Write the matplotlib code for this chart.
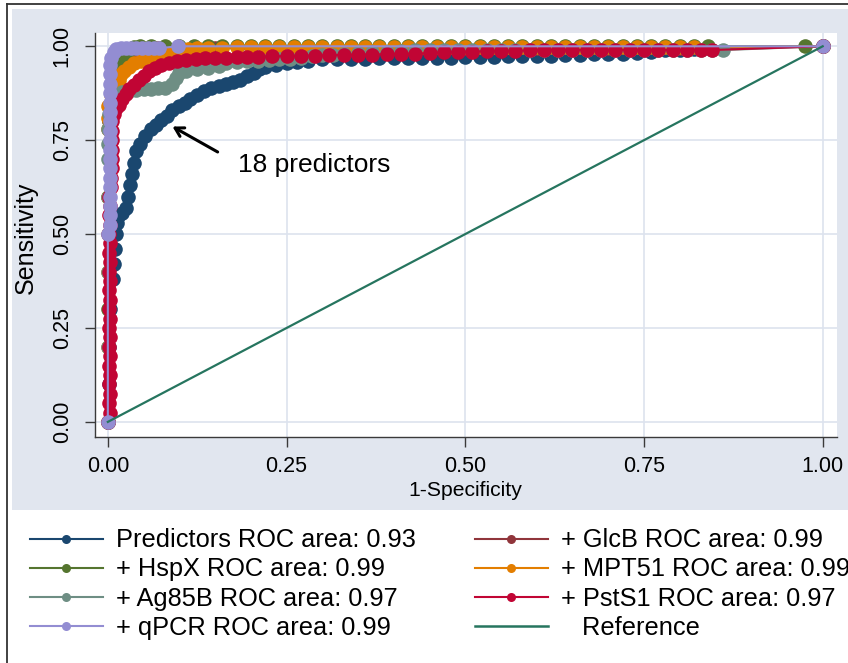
import matplotlib.pyplot as plt
from matplotlib.lines import Line2D
from matplotlib.patches import Rectangle

plt.rcParams['font.family'] = ['Liberation Sans', 'DejaVu Sans']

# pontos (1-especificidade, sensibilidade)
predictors = [(0, 0), (0.001, 0.10), (0.002, 0.20), (0.003, 0.30), (0.007, 0.38), (0.008, 0.42),
              (0.010, 0.46), (0.011, 0.50), (0.013, 0.53), (0.016, 0.55), (0.020, 0.555), (0.025, 0.57),
              (0.028, 0.60), (0.031, 0.63), (0.034, 0.66), (0.036, 0.69), (0.039, 0.72), (0.045, 0.74),
              (0.052, 0.76), (0.060, 0.78), (0.068, 0.79), (0.075, 0.805), (0.083, 0.815), (0.090, 0.83),
              (0.100, 0.84), (0.108, 0.85), (0.115, 0.86), (0.125, 0.87), (0.135, 0.88), (0.145, 0.89),
              (0.155, 0.895), (0.165, 0.90), (0.175, 0.905), (0.185, 0.91), (0.195, 0.92), (0.205, 0.93),
              (0.212, 0.94), (0.220, 0.945), (0.235, 0.95), (0.250, 0.955), (0.265, 0.958), (0.280, 0.96),
              (0.300, 0.965), (0.320, 0.965), (0.340, 0.966), (0.360, 0.966), (0.380, 0.968), (0.400, 0.968),
              (0.420, 0.968), (0.440, 0.97), (0.460, 0.97), (0.480, 0.97), (0.500, 0.972), (0.520, 0.972),
              (0.540, 0.972), (0.560, 0.975), (0.580, 0.975), (0.600, 0.975), (0.620, 0.975), (0.640, 0.977),
              (0.660, 0.978), (0.680, 0.98), (0.700, 0.98), (0.720, 0.98), (0.740, 0.982), (0.760, 0.985),
              (0.780, 0.99), (0.800, 0.99), (0.820, 0.992), (0.840, 0.995), (1.0, 1.0)]

glcb = [(0, 0), (0, 0.5), (0.002, 0.8), (0.008, 0.9), (0.015, 0.94), (0.025, 0.965), (0.035, 0.98),
        (0.05, 0.99), (0.07, 0.995), (0.10, 0.995), (0.15, 0.995), (0.20, 0.995), (0.30, 0.995),
        (0.40, 0.995), (0.50, 0.995), (0.60, 0.995), (0.70, 0.995), (0.80, 0.995), (1.0, 1.0)]

hspx = [(0, 0), (0, 0.3), (0, 0.6), (0.002, 0.8), (0.006, 0.88), (0.010, 0.92), (0.015, 0.945),
        (0.020, 0.96), (0.025, 0.975), (0.030, 0.99), (0.036, 0.997), (0.045, 1.0), (0.06, 1.0),
        (0.08, 1.0), (0.10, 1.0), (0.12, 1.0), (0.14, 1.0), (0.16, 1.0), (0.18, 1.0), (0.20, 1.0),
        (0.22, 1.0), (0.24, 1.0), (0.26, 1.0), (0.28, 1.0), (0.30, 1.0), (0.32, 1.0), (0.34, 1.0),
        (0.36, 1.0), (0.38, 1.0), (0.40, 1.0), (0.42, 1.0), (0.44, 1.0), (0.46, 1.0), (0.48, 1.0),
        (0.50, 1.0), (0.52, 1.0), (0.54, 1.0), (0.56, 1.0), (0.58, 1.0), (0.60, 1.0), (0.62, 1.0),
        (0.64, 1.0), (0.66, 1.0), (0.68, 1.0), (0.70, 1.0), (0.72, 1.0), (0.74, 1.0), (0.76, 1.0),
        (0.78, 1.0), (0.80, 1.0), (0.82, 1.0), (0.84, 1.0), (0.975, 1.0), (1.0, 1.0)]

mpt51 = [(0, 0), (0, 0.2), (0, 0.4), (0, 0.6), (0, 0.78), (0, 0.81), (0, 0.84), (0.004, 0.87),
         (0.010, 0.895), (0.015, 0.91), (0.019, 0.925), (0.023, 0.935), (0.030, 0.945), (0.037, 0.955),
         (0.047, 0.96), (0.058, 0.963), (0.068, 0.968), (0.078, 0.975), (0.088, 0.982), (0.100, 0.988),
         (0.112, 0.993), (0.125, 0.996), (0.14, 0.996), (0.16, 0.996), (0.18, 0.997), (0.20, 0.997),
         (0.22, 0.997), (0.24, 0.997), (0.26, 0.997), (0.28, 0.997), (0.30, 0.997), (0.32, 0.997),
         (0.34, 0.997), (0.36, 0.997), (0.38, 0.997), (0.40, 0.997), (0.42, 0.997), (0.44, 0.997),
         (0.46, 0.997), (0.48, 0.997), (0.50, 0.997), (0.52, 0.997), (0.54, 0.997), (0.56, 0.997),
         (0.58, 0.997), (0.60, 0.997), (0.62, 0.997), (0.64, 0.997), (0.66, 0.997), (0.68, 0.997),
         (0.70, 0.997), (0.72, 0.997), (0.74, 0.997), (0.76, 0.997), (0.78, 0.997), (0.80, 0.997),
         (0.82, 0.997), (1.0, 1.0)]

ag85b = [(0, 0), (0, 0.2), (0, 0.4), (0, 0.6), (0, 0.7), (0, 0.74), (0, 0.78), (0.002, 0.82),
         (0.006, 0.85), (0.012, 0.87), (0.020, 0.878), (0.030, 0.882), (0.040, 0.884), (0.050, 0.886),
         (0.060, 0.887), (0.070, 0.888), (0.080, 0.89), (0.090, 0.90), (0.095, 0.915), (0.100, 0.928),
         (0.110, 0.935), (0.125, 0.94), (0.140, 0.942), (0.155, 0.948), (0.165, 0.955), (0.180, 0.958),
         (0.195, 0.96), (0.210, 0.962), (0.225, 0.963), (0.240, 0.965), (0.255, 0.967), (0.270, 0.97),
         (0.285, 0.973), (0.300, 0.976), (0.315, 0.978), (0.330, 0.98), (0.350, 0.982), (0.370, 0.984),
         (0.390, 0.986), (0.410, 0.988), (0.43, 0.99), (0.45, 0.99), (0.47, 0.99), (0.49, 0.99),
         (0.51, 0.99), (0.53, 0.99), (0.55, 0.99), (0.57, 0.99), (0.59, 0.99), (0.61, 0.99), (0.63, 0.99),
         (0.65, 0.99), (0.67, 0.99), (0.69, 0.99), (0.71, 0.99), (0.73, 0.99), (0.75, 0.99), (0.77, 0.99),
         (0.79, 0.99), (0.81, 0.99), (0.83, 0.99), (0.845, 0.99), (0.86, 0.99), (1.0, 1.0)]

psts1 = [(0, 0), (0.003, 0.025), (0.001, 0.05), (0.003, 0.075), (0.001, 0.10), (0.003, 0.125),
         (0.001, 0.15), (0.003, 0.175), (0.001, 0.20), (0.003, 0.225), (0.001, 0.25), (0.003, 0.275),
         (0.001, 0.30), (0.003, 0.325), (0.001, 0.35), (0.003, 0.375), (0.001, 0.40), (0.003, 0.425),
         (0.001, 0.45), (0.003, 0.475), (0.001, 0.50), (0.003, 0.525), (0.001, 0.55), (0.003, 0.575),
         (0.002, 0.60), (0.004, 0.625), (0.005, 0.65), (0.006, 0.675), (0.006, 0.70), (0.006, 0.725),
         (0.006, 0.75), (0.006, 0.775), (0.006, 0.80), (0.008, 0.82), (0.012, 0.835), (0.016, 0.845),
         (0.020, 0.86), (0.025, 0.873), (0.030, 0.886), (0.036, 0.898), (0.043, 0.91), (0.050, 0.922),
         (0.058, 0.933), (0.066, 0.943), (0.075, 0.951), (0.085, 0.956), (0.097, 0.96), (0.110, 0.963),
         (0.123, 0.966), (0.136, 0.968), (0.150, 0.969), (0.165, 0.97), (0.180, 0.971), (0.195, 0.972),
         (0.21, 0.972), (0.23, 0.973), (0.25, 0.974), (0.27, 0.975), (0.29, 0.975), (0.31, 0.976),
         (0.33, 0.977), (0.35, 0.978), (0.37, 0.978), (0.39, 0.979), (0.41, 0.98), (0.43, 0.98),
         (0.45, 0.982), (0.47, 0.984), (0.49, 0.985), (0.51, 0.986), (0.53, 0.987), (0.55, 0.988),
         (0.57, 0.988), (0.59, 0.989), (0.61, 0.99), (0.63, 0.99), (0.65, 0.99), (0.67, 0.99),
         (0.69, 0.99), (0.71, 0.99), (0.73, 0.99), (0.75, 0.99), (0.77, 0.99), (0.79, 0.99),
         (0.81, 0.99), (0.83, 0.99), (0.845, 0.99), (1.0, 1.0)]

qpcr = [(0, 0), (0, 0.5), (0.003, 0.525), (0.003, 0.55), (0.003, 0.575), (0.003, 0.60), (0.003, 0.625),
        (0.003, 0.65), (0.003, 0.675), (0.003, 0.70), (0.003, 0.725), (0.003, 0.75), (0.003, 0.775),
        (0.003, 0.80), (0.003, 0.825), (0.003, 0.85), (0.003, 0.875), (0.003, 0.90), (0.003, 0.925),
        (0.003, 0.95), (0.005, 0.97), (0.008, 0.985), (0.012, 0.993), (0.018, 0.995), (0.025, 0.995),
        (0.032, 0.995), (0.040, 0.995), (0.048, 0.995), (0.056, 0.995), (0.064, 0.995), (0.072, 0.995),
        (0.098, 1.0), (1.0, 1.0)]

reference = [(0.0, 0.0), (1.0, 1.0)]

curves = [predictors, glcb, hspx, mpt51, ag85b, psts1, qpcr]
curve_names = ['Predictors', '+ GlcB', '+ HspX', '+ MPT51', '+ Ag85B', '+ PstS1', '+ qPCR']
roc_areas = [0.93, 0.99, 0.99, 0.99, 0.97, 0.97, 0.99]
curve_colors = ['#1a476f', '#90353b', '#55752f', '#e37e00', '#6e8e84', '#c10534', '#938dd2']
ref_color = '#26755f'
ticks = [0, 0.25, 0.5, 0.75, 1.0]
tick_labels = ['0.00', '0.25', '0.50', '0.75', '1.00']

fig = plt.figure(figsize=(8.48, 6.63), dpi=100)
fig.patch.set_facecolor('white')

# fundo azulado da região do gráfico e moldura externa
fig.add_artist(Rectangle((0.014, 0.2308), 0.986, 0.7557, transform=fig.transFigure,
                         facecolor='#e1e6ef', edgecolor='none', zorder=0))
fig.add_artist(Line2D([0.0083, 0.0083], [0, 0.994], transform=fig.transFigure, color='#333333', lw=1.3))
fig.add_artist(Line2D([0.0083, 1], [0.994, 0.994], transform=fig.transFigure, color='#333333', lw=1.3))

ax = fig.add_axes([0.112, 0.341, 0.875, 0.609])
ax.set_facecolor('white')

handles = []
for pts, nome, area, cor in zip(curves, curve_names, roc_areas, curve_colors):
    xs = [p[0] for p in pts]
    ys = [p[1] for p in pts]
    ax.plot(xs, ys, color=cor, lw=1.5, marker='o', markersize=10.5, markeredgewidth=0)
    handles.append(Line2D([], [], color=cor, lw=1.5, marker='o', markersize=6.5, markeredgewidth=0,
                          label=f'{nome} ROC area: {area:.2f}'))

ax.plot([p[0] for p in reference], [p[1] for p in reference], color=ref_color, lw=1.6)
ref_handle = Line2D([], [], color=ref_color, lw=1.8, label='   Reference')

ax.annotate('', xy=(0.087, 0.79), xytext=(0.157, 0.715),
            arrowprops=dict(arrowstyle='->,head_length=0.6,head_width=0.35', lw=2.2, color='black'))
ax.text(0.182, 0.665, '18 predictors', fontsize=19, va='baseline', ha='left')

ax.set_xlim(-0.018, 1.02)
ax.set_ylim(-0.04, 1.035)
ax.set_xticks(ticks)
ax.set_xticklabels(tick_labels)
ax.set_yticks(ticks)
ax.set_yticklabels(tick_labels)
for lbl in ax.get_yticklabels():
    lbl.set_rotation(90)
    lbl.set_va('center')
ax.grid(True, color='#dde3ee', lw=1.2)
ax.set_axisbelow(True)
for lado in ['top', 'right']:
    ax.spines[lado].set_visible(False)
for lado in ['left', 'bottom']:
    ax.spines[lado].set_color('#3a3a3a')
    ax.spines[lado].set_linewidth(1.0)
ax.tick_params(axis='both', direction='out', length=7, width=1, colors='#3a3a3a', labelsize=15.5,
               labelcolor='black')
ax.tick_params(axis='y', pad=9)
ax.tick_params(axis='x', pad=7)

fig.text(465 / 848, 1 - 490 / 663, '1-Specificity', ha='center', va='center', fontsize=15.2)
fig.text(26 / 848, 1 - 238 / 663, 'Sensitivity', ha='center', va='center', rotation=90, fontsize=18)

# legenda em duas colunas
col1 = [handles[0], handles[2], handles[4], handles[6]]
col2 = [handles[1], handles[3], handles[5], ref_handle]
for hs, x0 in [(col1, 30 / 848), (col2, 475 / 848)]:
    fig.legend(handles=hs, loc='upper left', bbox_to_anchor=(x0, 0.203), frameon=False,
               fontsize=18.3, handlelength=2.87, handletextpad=0.5, labelspacing=0.2,
               borderpad=0, borderaxespad=0)

fig.savefig('out.png', dpi=100, facecolor=fig.get_facecolor())
